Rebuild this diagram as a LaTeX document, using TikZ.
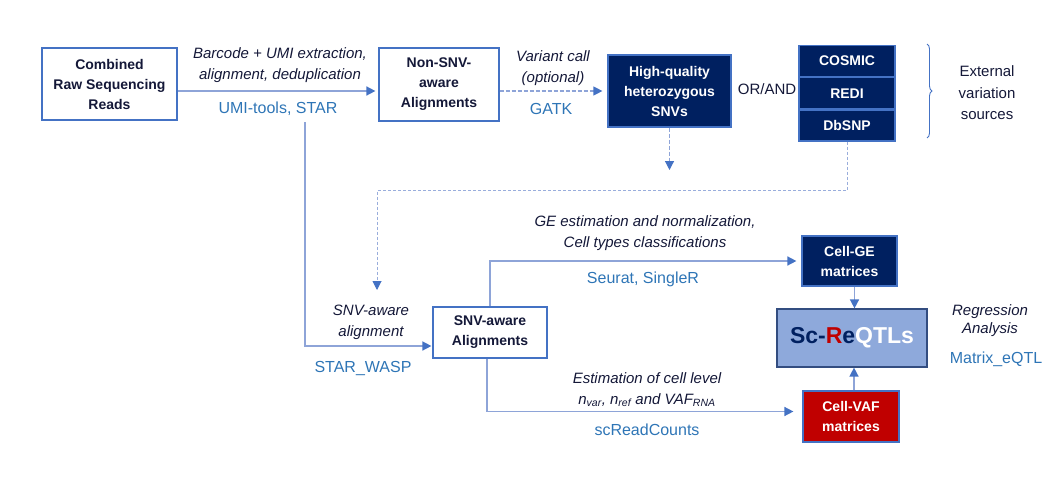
\documentclass[tikz,border=0pt]{standalone}
\usepackage{fontspec}
\setmainfont{Liberation Sans}
\usepackage{tikz}
\usetikzlibrary{positioning}
\usetikzlibrary{arrows.meta,decorations.pathreplacing}

\definecolor{boxblue}{HTML}{4472C4}
\definecolor{linkblue}{HTML}{8EA4D8}
\definecolor{navy}{HTML}{002060}
\definecolor{darkred}{HTML}{C00000}
\definecolor{lightfill}{HTML}{8EA9DB}
\definecolor{toolblue}{HTML}{2E75B6}
\definecolor{inkdark}{HTML}{141838}

\begin{document}
\begin{tikzpicture}[x=1pt, y=-1pt,
		whitebox/.style={draw=boxblue, line width=1.2pt, fill=white, text=inkdark, align=center, inner sep=2pt, font=\fontsize{14}{20}\selectfont\bfseries},
		darkbox/.style={whitebox, fill=navy, text=white},
		steplbl/.style={align=center, text=inkdark, font=\fontsize{15}{21}\selectfont\itshape},
		toollbl/.style={text=toolblue, font=\fontsize{16}{20}\selectfont},
		flow/.style={draw=linkblue, line width=1.5pt, -{Triangle[length=9pt,width=9pt,color=boxblue]}},
		dashflow/.style={flow, line width=1.2pt, dash pattern=on 4pt off 2pt}]
				\useasboundingbox (0,0) rectangle (1064,487);

				%Nodes
				\node[whitebox, minimum width=135, minimum height=72] (raw) at (109.5,84) {Combined\\Raw Sequencing\\Reads};
				\node[whitebox, minimum width=120, minimum height=73] (nonsnv) at (439,84.5) {Non-SNV-\\aware\\Alignments};
				\node[darkbox, minimum width=123, minimum height=72] (hq) at (669.5,91) {High-quality\\heterozygous\\SNVs};
				\node[darkbox, minimum width=96, minimum height=31] (cosmic) at (847,61) {COSMIC};
				\node[darkbox, minimum width=96, minimum height=31, below=0pt of cosmic] (redi) {REDI};
				\node[darkbox, minimum width=96, minimum height=31, below=0pt of redi] (dbsnp) {DbSNP};
				\node[whitebox, minimum width=114, minimum height=51] (snvaw) at (490,332.5) {SNV-aware\\Alignments};
				\node[darkbox, minimum width=95, minimum height=50] (cellge) at (849.5,261) {Cell-GE\\matrices};
				\node[whitebox, fill=lightfill, draw=navy!80, minimum width=150, minimum height=58, font=\fontsize{23}{28}\selectfont\bfseries] (screqtl) at (852,338)
					{\textcolor{navy}{Sc-}\textcolor{darkred}{R}\textcolor{navy}{e}\textcolor{white}{QTLs}};
				\node[darkbox, fill=darkred, minimum width=96, minimum height=51] (cellvaf) at (851,416.5) {Cell-VAF\\matrices};

				%Labels
				\node[steplbl] (barcode) at (280,65.5) {Barcode + UMI extraction,\\alignment, deduplication};
				\node[toollbl] (umitools) at (278,109) {UMI-tools, STAR};
				\node[steplbl] (variant) at (553,68) {Variant call\\(optional)};
				\node[toollbl] (gatk) at (551,109) {GATK};
				\node[text=inkdark, font=\fontsize{15}{20}\selectfont] (orand) at (767,89) {OR/AND};
				\node[align=center, text=inkdark, font=\fontsize{15}{21.5}\selectfont] (external) at (987,93) {External\\variation\\sources};
				\node[steplbl] (snvlbl) at (371,322.5) {SNV-aware\\alignment};
				\node[toollbl] (starwasp) at (363,368) {STAR\_WASP};
				\node[steplbl] (gelbl) at (645,233.5) {GE estimation and normalization,\\Cell types classifications};
				\node[toollbl] (seurat) at (643,279) {Seurat, SingleR};
				\node[steplbl] (estlbl) at (647,389.5) {Estimation of cell level\\n\textsubscript{var}, n\textsubscript{ref} and VAF\textsubscript{RNA}};
				\node[toollbl] (screadcounts) at (647,430) {scReadCounts};
				\node[steplbl, font=\fontsize{15}{18}\selectfont\itshape] (reglbl) at (990,321) {Regression\\Analysis};
				\node[toollbl] (matrix) at (996,359) {Matrix\_eQTL};

				\coordinate      (split) 	at 	(305,122);
				\coordinate      (hqout) 	at 	(669.5,170);
				\coordinate      (snvin) 	at 	(377,290);

				%Lines
				\draw[flow, shorten >=3pt] (raw.east |- hq.west) -- (nonsnv.west |- hq.west);
				\draw[dashflow, shorten >=5pt] (nonsnv.east |- hq.west) -- (hq.west);
				\draw[dashflow] (hq.south) -- (hqout);
				\draw[dashflow, draw=linkblue!90, line width=1pt, dash pattern=on 3pt off 2pt] (dbsnp.south) -- ++(0,49) -| (snvin);
				\draw[flow, shorten >=1pt] (split) |- ([yshift=-13.5pt]snvaw.west);
				\draw[flow, shorten >=5pt] (snvaw.north) |- (cellge.west);
				\draw[flow, shorten >=9pt] ([xshift=-3pt]snvaw.south) |- ([yshift=5pt]cellvaf.west);
				\draw[flow] ([xshift=5pt]cellge.south) -- ([xshift=5pt]cellge.south |- screqtl.north);
				\draw[flow] ([xshift=3pt]cellvaf.north) -- ([xshift=3pt]cellvaf.north |- screqtl.south);
				\draw[boxblue, line width=0.9pt, decorate, decoration={brace, amplitude=5pt}] (927,44) -- (927,138);

			\end{tikzpicture}
\end{document}
